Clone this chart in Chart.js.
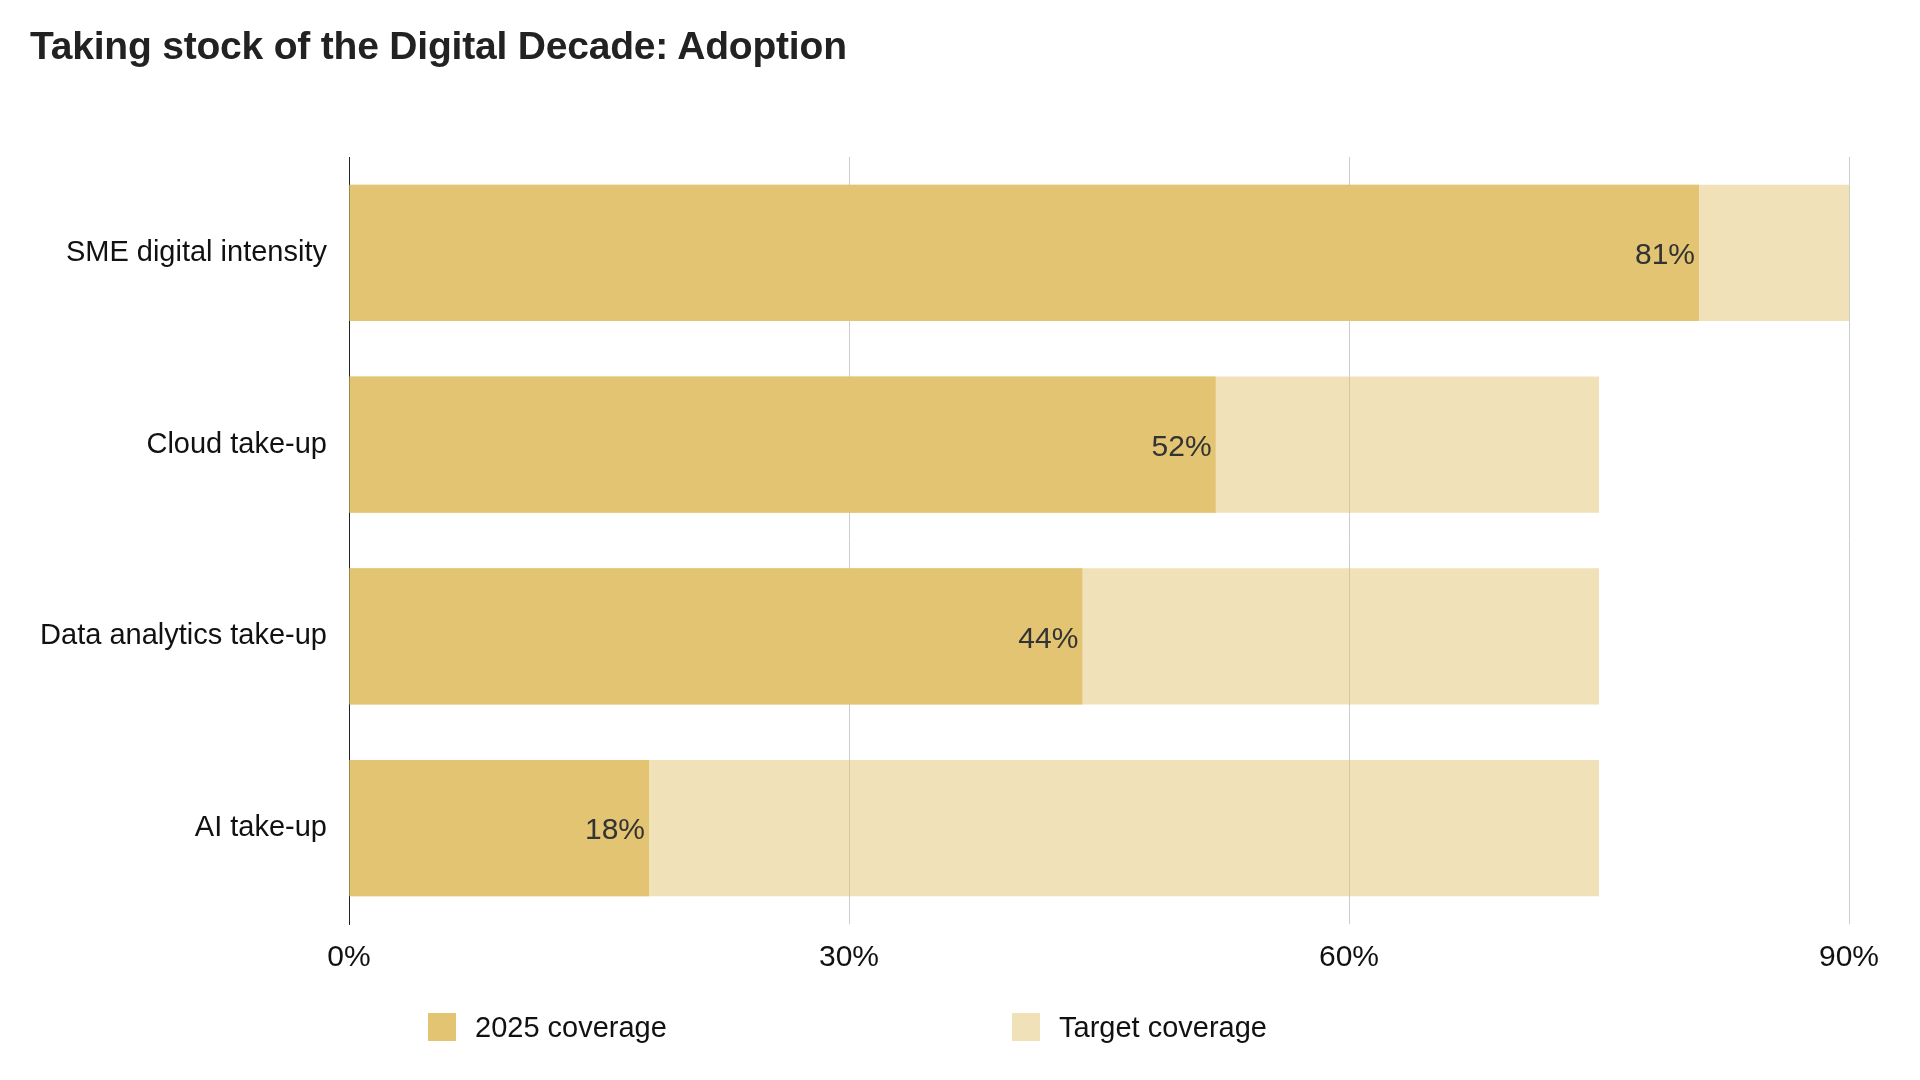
<!DOCTYPE html>
<html>
<head>
<meta charset="utf-8">
<script src="https://cdn.jsdelivr.net/npm/chart.js@4"></script>
<style>
  body { margin: 0; background: #fff; font-family: "Liberation Sans", Arial, sans-serif; }
  #wrap { position: relative; width: 1920px; height: 1080px; }
  #title { position: absolute; left: 30px; top: 26px; font-size: 39px; line-height: 39px; font-weight: bold; color: #222; letter-spacing: -0.2px; }
  .legendItem { position: absolute; top: 1013px; height: 28px; display: flex; align-items: center; font-size: 29px; color: #111; }
  .legendItem span.box { width: 28px; height: 28px; margin-right: 19px; }
  canvas { position: absolute; left: 0; top: 0; }
</style>
</head>
<body>
<div id="wrap">
  <canvas id="adoptionChart" width="1920" height="1080"></canvas>
  <div id="title">Taking stock of the Digital Decade: Adoption</div>
  <div class="legendItem" style="left:428px"><span class="box" style="background:#E2C472"></span>2025 coverage</div>
  <div class="legendItem" style="left:1012px"><span class="box" style="background:rgba(226,196,114,0.5)"></span>Target coverage</div>
</div>
<script>
// categories and values
let categories = ['SME digital intensity', 'Cloud take-up', 'Data analytics take-up', 'AI take-up'];
let coverage2025 = [81, 52, 44, 18];
let targetCoverage = [90, 75, 75, 75];
let xTicks = [0, 30, 60, 90];

let darkGold = '#E2C472';
let lightGold = 'rgba(226,196,114,0.5)';

// Draws the value labels at the end of the 2025 bars
const valueLabels = {
    id: 'valueLabels',
    afterDatasetsDraw(chart) {
        const ctx = chart.ctx;
        const meta = chart.getDatasetMeta(0);
        ctx.save();
        ctx.font = '30px "Liberation Sans", Arial, sans-serif';
        ctx.fillStyle = '#333';
        ctx.textAlign = 'right';
        ctx.textBaseline = 'middle';
        meta.data.forEach((bar, i) => {
            ctx.fillText(coverage2025[i] + '%', bar.x - 4, bar.y + 3);
        });
        ctx.restore();
    }
};

let ctx = document.getElementById('adoptionChart').getContext('2d');
let adoptionChart = new Chart(ctx, {
    type: 'bar',
    data: {
        labels: categories,
        datasets: [
            {
                label: '2025 coverage',
                data: coverage2025,
                backgroundColor: darkGold
            },
            {
                label: 'Target coverage',
                data: targetCoverage,
                backgroundColor: lightGold
            }
        ]
    },
    options: {
        indexAxis: 'y',
        responsive: false,
        animation: false,
        devicePixelRatio: 1,
        grouped: false,
        barPercentage: 0.71,
        categoryPercentage: 1.0,
        layout: {
            padding: { top: 157, right: 71, bottom: 0, left: 0 }
        },
        scales: {
            x: {
                min: 0,
                max: 90,
                afterBuildTicks: (scale) => {
                    scale.ticks = xTicks.map(v => ({ value: v }));
                },
                afterFit: (scale) => { scale.height = 156; },
                ticks: {
                    callback: (value) => value + '%',
                    font: { family: '"Liberation Sans", Arial, sans-serif', size: 30 },
                    color: '#111',
                    padding: 16
                },
                grid: {
                    color: '#cccccc',
                    lineWidth: 1,
                    drawTicks: false
                },
                border: { display: false }
            },
            y: {
                afterFit: (scale) => { scale.width = 349; },
                ticks: {
                    font: { family: '"Liberation Sans", Arial, sans-serif', size: 29 },
                    color: '#111',
                    padding: 22
                },
                grid: { display: false, drawTicks: false },
                border: { display: true, color: '#222', width: 1 }
            }
        },
        plugins: {
            legend: { display: false },
            title: { display: false },
            tooltip: { enabled: false }
        }
    },
    plugins: [valueLabels]
});
</script>
</body>
</html>
